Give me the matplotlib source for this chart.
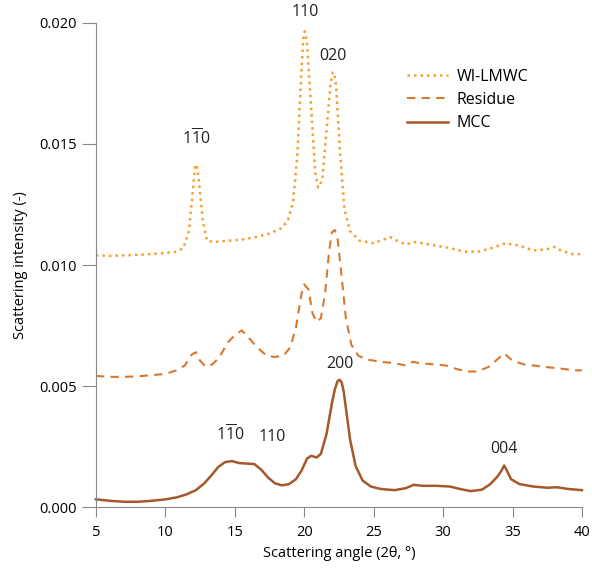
import matplotlib.pyplot as plt

plt.rcParams['font.family'] = ['Open Sans', 'DejaVu Sans']
plt.rcParams['mathtext.fontset'] = 'custom'
plt.rcParams['mathtext.rm'] = 'Open Sans'

# WI-LMWC (dotted)
wi_x = [5, 6, 7, 8, 9, 10, 10.8, 11.3, 11.7, 12.0, 12.15, 12.25, 12.4, 12.7, 13.0, 13.5,
        14.5, 15.5, 16.5, 17.5, 18.3, 18.8, 19.2, 19.5, 19.8, 19.95, 20.05, 20.2, 20.5,
        20.8, 21.0, 21.3, 21.6, 21.9, 22.05, 22.15, 22.3, 22.6, 22.9, 23.3, 24, 25, 25.7,
        26.2, 26.7, 27.3, 28, 28.5, 29.5, 30.5, 31.5, 32.5, 33.5, 34.5, 35.5, 36.5, 37.5,
        38, 38.5, 39.3, 40]
wi_y = [10.40, 10.38, 10.40, 10.42, 10.45, 10.50, 10.55, 10.70, 11.40, 13.20, 14.10, 14.15,
        13.60, 11.80, 11.00, 10.95, 11.00, 11.05, 11.15, 11.30, 11.50, 11.80, 12.60, 14.50,
        18.00, 19.50, 19.65, 19.20, 16.50, 13.80, 13.20, 13.50, 15.50, 17.50, 17.95, 17.95,
        17.40, 14.50, 12.30, 11.40, 11.00, 10.90, 11.05, 11.15, 11.00, 10.85, 10.95, 10.90,
        10.80, 10.70, 10.55, 10.55, 10.70, 10.90, 10.80, 10.60, 10.65, 10.75, 10.60, 10.45,
        10.45]

# Residue (dashed)
res_x = [5, 6, 7, 8, 9, 10, 10.8, 11.4, 11.9, 12.2, 12.5, 12.9, 13.4, 13.9, 14.5, 15.0,
         15.5, 16.0, 16.6, 17.2, 17.8, 18.5, 19.0, 19.4, 19.8, 20.0, 20.3, 20.6, 20.9,
         21.2, 21.5, 21.8, 22.0, 22.2, 22.4, 22.7, 23.0, 23.4, 23.9, 24.5, 25.5, 26.5,
         27.3, 27.8, 28.3, 29.2, 30.2, 31, 31.8, 32.5, 33.3, 34.0, 34.4, 35.0, 35.8, 36.5,
         37.2, 38, 38.8, 39.5, 40]
res_y = [5.42, 5.38, 5.38, 5.40, 5.45, 5.50, 5.65, 5.85, 6.30, 6.40, 6.05, 5.80, 5.90,
         6.20, 6.80, 7.10, 7.30, 7.00, 6.60, 6.30, 6.20, 6.25, 6.60, 7.40, 8.80, 9.20, 9.00,
         8.00, 7.65, 7.80, 8.80, 10.60, 11.35, 11.45, 11.10, 9.50, 7.80, 6.70, 6.25, 6.10,
         6.00, 5.95, 5.85, 6.00, 5.95, 5.90, 5.85, 5.70, 5.60, 5.60, 5.80, 6.15, 6.35, 6.05,
         5.90, 5.85, 5.80, 5.75, 5.70, 5.65, 5.65]

# MCC (solid)
mcc_x = [5, 6, 7, 8, 9, 10, 10.8, 11.5, 12.2, 12.8, 13.3, 13.8, 14.3, 14.8, 15.3, 15.8,
         16.4, 16.9, 17.4, 17.9, 18.4, 18.9, 19.4, 19.8, 20.2, 20.5, 20.9, 21.2, 21.6,
         22.0, 22.2, 22.4, 22.55, 22.7, 22.85, 23.0, 23.3, 23.7, 24.2, 24.8, 25.5, 26.5,
         27.3, 27.9, 28.5, 29.5, 30.5, 31.2, 32.0, 32.8, 33.4, 33.9, 34.2, 34.4, 34.6,
         34.9, 35.5, 36.5, 37.5, 38.2, 39, 40]
mcc_y = [0.32, 0.26, 0.22, 0.22, 0.26, 0.32, 0.40, 0.52, 0.70, 0.98, 1.30, 1.65, 1.86,
         1.90, 1.82, 1.80, 1.78, 1.55, 1.22, 0.98, 0.90, 0.95, 1.15, 1.50, 2.00, 2.12, 2.05,
         2.20, 3.00, 4.30, 4.85, 5.20, 5.26, 5.15, 4.75, 4.10, 2.80, 1.70, 1.10, 0.85, 0.75,
         0.70, 0.78, 0.92, 0.88, 0.88, 0.85, 0.75, 0.66, 0.72, 0.95, 1.25, 1.50, 1.72, 1.50,
         1.15, 0.95, 0.85, 0.80, 0.82, 0.75, 0.70]

bar_lbl = r'$\mathrm{1\overline{1}0}$'
peak_labels = [bar_lbl, '110', '020', bar_lbl, '110', '200', '004']
peak_x = [12.2, 20.05, 22.1, 14.65, 17.7, 22.6, 34.4]
peak_y = [14.8, 20.1, 18.3, 2.55, 2.55, 5.6, 2.05]

fig = plt.figure(figsize=(5.92, 5.73), dpi=100)
ax = fig.add_axes([0.162, 0.115, 0.821, 0.845])

ax.plot(wi_x, [v / 1000 for v in wi_y], color='#F7A030', lw=1.8,
        linestyle=(0, (1, 1.6)), label='WI-LMWC', clip_on=False)
ax.plot(res_x, [v / 1000 for v in res_y], color='#D9782D', lw=1.5,
        linestyle=(0, (4, 3)), label='Residue', clip_on=False)
ax.plot(mcc_x, [v / 1000 for v in mcc_y], color='#A5582A', lw=1.8,
        label='MCC', clip_on=False)

for t, x, y in zip(peak_labels, peak_x, peak_y):
    ax.text(x, y / 1000, t, ha='center', va='bottom', fontsize=11.5, color='#222222')

ax.set_xlim(5, 40)
ax.set_ylim(0, 0.020)
ax.set_xticks(range(5, 41, 5))
ax.set_yticks([0, 0.005, 0.010, 0.015, 0.020])
ax.set_yticklabels(['0.000', '0.005', '0.010', '0.015', '0.020'])

for s in ['top', 'right']:
    ax.spines[s].set_visible(False)
for s in ['left', 'bottom']:
    ax.spines[s].set_color('#888888')
ax.tick_params(axis='y', direction='out', length=10, color='#888888', labelsize=10.5, pad=4)
ax.tick_params(axis='x', direction='out', length=7, color='#888888', labelsize=10.5, pad=6)

ax.set_xlabel('Scattering angle (2θ, °)', fontsize=10.5, labelpad=4)
ax.set_ylabel('Scattering intensity (-)', fontsize=10.5, labelpad=8)

ax.legend(loc='upper left', bbox_to_anchor=(0.61, 0.935), frameon=False,
          fontsize=11.5, handlelength=2.6, handletextpad=0.5, labelspacing=0.45)

fig.savefig('out.png', dpi=100)
